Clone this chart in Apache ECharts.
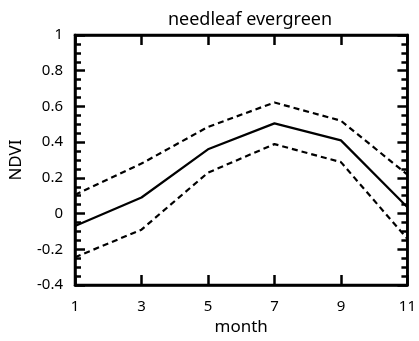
<!DOCTYPE html>
<html>
<head>
<meta charset="utf-8">
<script src="https://cdn.jsdelivr.net/npm/echarts@6/dist/echarts.min.js"></script>
<style>
  html, body { margin: 0; padding: 0; background: #fff; }
  #chart { width: 419px; height: 341px; }
</style>
</head>
<body>
<div id="chart"></div>
<script>
// NDVI per month for needleleaf evergreen: mean and the two bounds
const months = [1, 3, 5, 7, 9, 11];
const meanNdvi = [-0.07, 0.09, 0.36, 0.505, 0.41, 0.035];
const upperNdvi = [0.105, 0.28, 0.485, 0.622, 0.52, 0.218];
const lowerNdvi = [-0.245, -0.09, 0.229, 0.389, 0.288, -0.142];

const font = 'Noto Sans';
const pairs = vals => months.map((m, i) => [m, vals[i]]);

const chart = echarts.init(document.getElementById('chart'));

function xAxisOf(pos) {
  return {
    type: 'value',
    position: pos,
    min: 1,
    max: 11,
    interval: 2,
    splitLine: { show: false },
    axisLine: { show: true, onZero: false, lineStyle: { color: '#000', width: 2.5 } },
    axisTick: { show: true, inside: true, length: 10, lineStyle: { color: '#000', width: 2.5 } },
  };
}
function yAxisOf(pos) {
  return {
    type: 'value',
    position: pos,
    min: -0.4,
    max: 1,
    interval: 0.2,
    splitLine: { show: false },
    axisLine: { show: true, onZero: false, lineStyle: { color: '#000', width: 2.5 } },
    axisTick: { show: true, inside: true, length: 10, lineStyle: { color: '#000', width: 2.5 } },
    minorTick: { show: true, splitNumber: 4, length: 6, lineStyle: { color: '#000', width: 2.5 } },
  };
}

const option = {
  animation: false,
  title: {
    text: 'needleaf evergreen',
    left: 245,
    textAlign: 'center',
    top: 6,
    textStyle: { fontFamily: font, fontSize: 18, fontWeight: 'normal', color: '#000' },
  },
  grid: { left: 75, right: 7, top: 35, bottom: 56, show: true, borderColor: '#000', borderWidth: 2.5 },
  xAxis: [
    Object.assign(xAxisOf('bottom'), {
      name: 'month',
      nameLocation: 'middle',
      nameGap: 32,
      nameTextStyle: { fontFamily: font, fontSize: 17, color: '#000' },
      axisLabel: { fontFamily: font, fontSize: 15, color: '#000', margin: 14 },
    }),
    Object.assign(xAxisOf('top'), { axisLabel: { show: false } }),
  ],
  yAxis: [
    Object.assign(yAxisOf('left'), {
      name: 'NDVI',
      nameLocation: 'middle',
      nameGap: 50,
      nameTextStyle: { fontFamily: font, fontSize: 17, color: '#000' },
      axisLabel: {
        fontFamily: font, fontSize: 15, color: '#000', margin: 12,
        formatter: v => String(Math.round(v * 10) / 10),
      },
    }),
    Object.assign(yAxisOf('right'), { axisLabel: { show: false } }),
  ],
  series: [
    {
      type: 'line', data: pairs(meanNdvi), symbol: 'none',
      lineStyle: { color: '#000', width: 2.2, type: 'solid' },
    },
    {
      type: 'line', data: pairs(upperNdvi), symbol: 'none',
      lineStyle: { color: '#000', width: 2.2, type: [6, 4] },
    },
    {
      type: 'line', data: pairs(lowerNdvi), symbol: 'none',
      lineStyle: { color: '#000', width: 2.2, type: [6, 4] },
    },
  ],
};

chart.setOption(option);
</script>
</body>
</html>
